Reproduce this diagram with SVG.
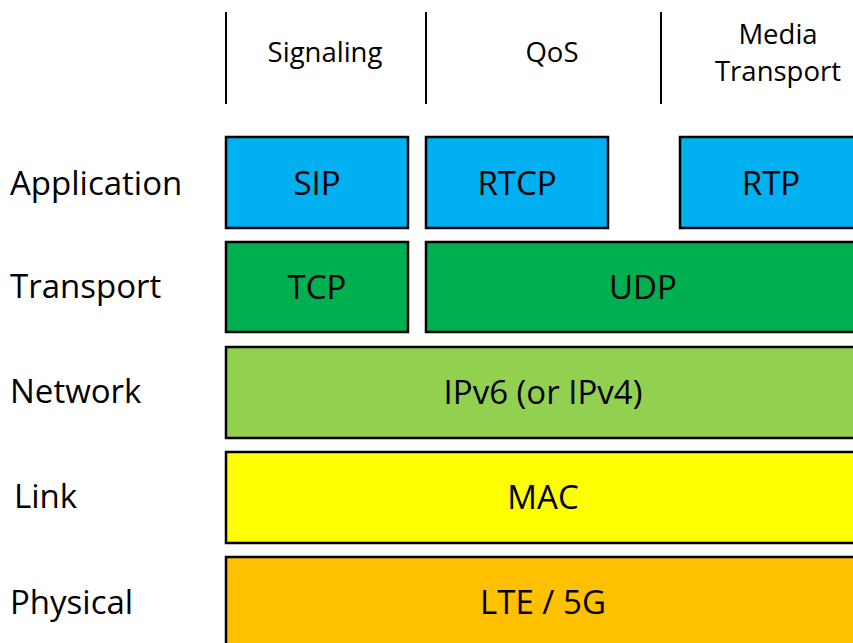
<svg xmlns="http://www.w3.org/2000/svg" width="853" height="643" viewBox="0 0 853 643">
  <style>
    .box { stroke: #000; stroke-width: 2.5; }
    .t { font-family: "Open Sans", "Liberation Sans", sans-serif; fill: #000; }
    .lbl { font-size: 33px; text-anchor: middle; }
    .layer { font-size: 33px; }
    .head { font-size: 27.5px; text-anchor: middle; }
    .sep { stroke: #000; stroke-width: 2; }
  </style>
  <rect width="853" height="643" fill="#fff"/>

  <!-- column headers -->
  <g id="headers">
    <line class="sep" x1="226" y1="12" x2="226" y2="104"/>
    <line class="sep" x1="426" y1="12" x2="426" y2="104"/>
    <line class="sep" x1="661" y1="12" x2="661" y2="104"/>
    <text class="t head" x="325" y="62">Signaling</text>
    <text class="t head" x="552" y="62">QoS</text>
    <text class="t head" x="778" y="44">Media</text>
    <text class="t head" x="778" y="81">Transport</text>
  </g>

  <!-- layer names -->
  <g id="layer-names">
    <text class="t layer" x="10" y="195">Application</text>
    <text class="t layer" x="10" y="298">Transport</text>
    <text class="t layer" x="10" y="403">Network</text>
    <text class="t layer" x="14" y="508">Link</text>
    <text class="t layer" x="10" y="614">Physical</text>
  </g>

  <g id="sip">
    <rect class="box" x="226" y="137" width="182" height="91" fill="#00B0F0"/>
    <text class="t lbl" x="317" y="195">SIP</text>
  </g>
  <g id="rtcp">
    <rect class="box" x="426" y="137" width="182" height="91" fill="#00B0F0"/>
    <text class="t lbl" x="517" y="195">RTCP</text>
  </g>
  <g id="rtp">
    <rect class="box" x="680" y="137" width="190" height="91" fill="#00B0F0"/>
    <text class="t lbl" x="771" y="195">RTP</text>
  </g>
  <g id="tcp">
    <rect class="box" x="226" y="242" width="182" height="90" fill="#00B050"/>
    <text class="t lbl" x="317" y="299">TCP</text>
  </g>
  <g id="udp">
    <rect class="box" x="426" y="242" width="440" height="90" fill="#00B050"/>
    <text class="t lbl" x="643" y="299">UDP</text>
  </g>
  <g id="ip">
    <rect class="box" x="226" y="347" width="640" height="91" fill="#92D050"/>
    <text class="t lbl" x="543" y="404">IPv6 (or IPv4)</text>
  </g>
  <g id="mac">
    <rect class="box" x="226" y="452" width="640" height="91" fill="#FFFF00"/>
    <text class="t lbl" x="543" y="509">MAC</text>
  </g>
  <g id="phy">
    <rect class="box" x="226" y="557" width="640" height="100" fill="#FFC000"/>
    <text class="t lbl" x="543" y="614">LTE / 5G</text>
  </g>
</svg>
